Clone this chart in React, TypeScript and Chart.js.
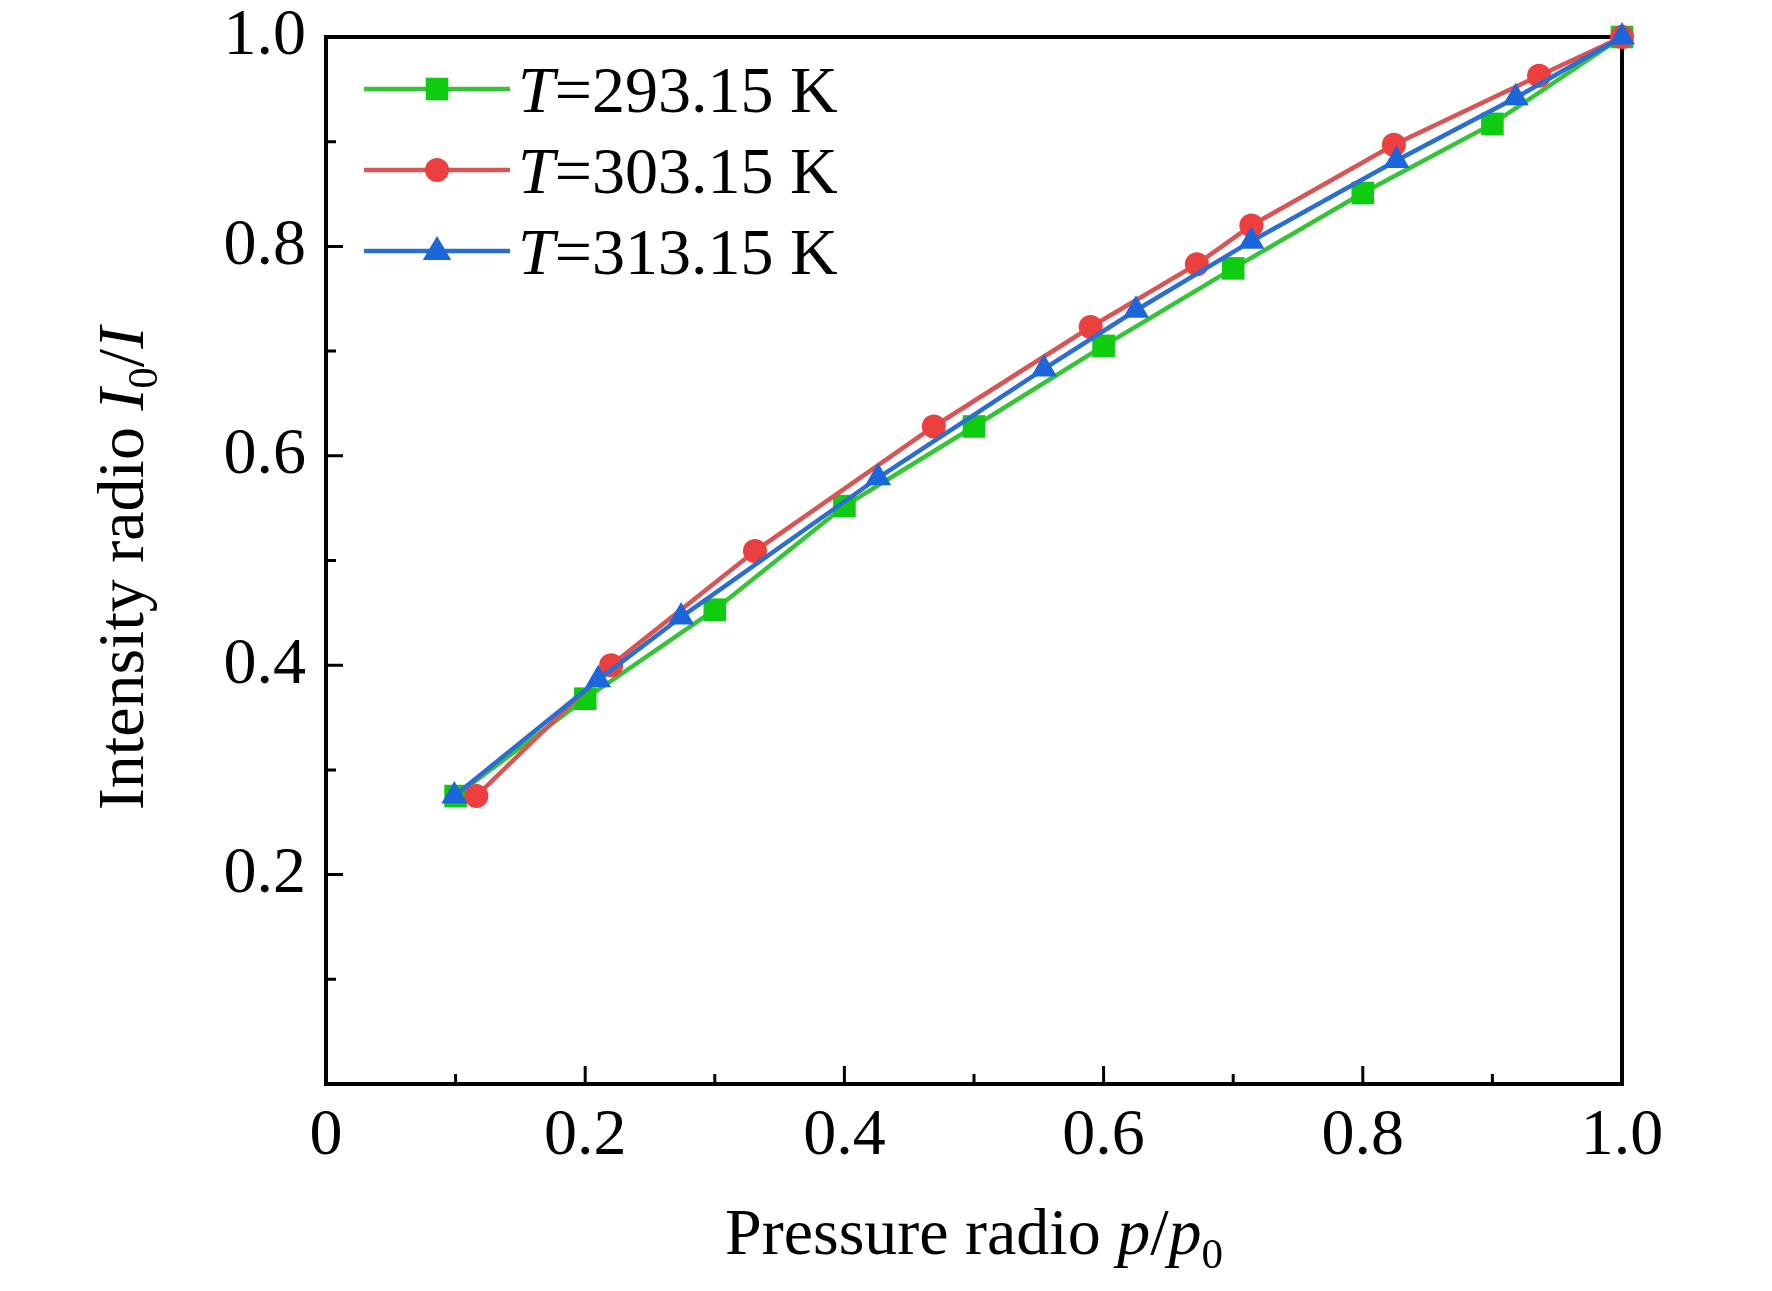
import React, { useEffect, useRef } from 'react';
import { Chart, registerables } from 'chart.js';

Chart.register(...registerables);

// Pressure ratio p/p0 (x) and intensity ratio I0/I (y) per temperature
const pressure293 = [0.1, 0.2, 0.3, 0.4, 0.5, 0.6, 0.7, 0.8, 0.9, 1.0];
const intensity293 = [0.275, 0.368, 0.453, 0.552, 0.628, 0.705, 0.779, 0.851, 0.917, 1.0];

const pressure303 = [0.116, 0.22, 0.331, 0.469, 0.59, 0.672, 0.714, 0.824, 0.936, 1.0];
const intensity303 = [0.275, 0.4, 0.509, 0.628, 0.723, 0.783, 0.82, 0.897, 0.963, 1.0];

const pressure313 = [0.099, 0.21, 0.274, 0.426, 0.554, 0.625, 0.714, 0.826, 0.918, 1.0];
const intensity313 = [0.275, 0.386, 0.446, 0.579, 0.683, 0.739, 0.805, 0.882, 0.942, 1.0];

const seriesLabels = ['293.15 K', '303.15 K', '313.15 K'];

const xMajorTicks = [0, 0.2, 0.4, 0.6, 0.8, 1.0];
const xMinorTicks = [0.1, 0.3, 0.5, 0.7, 0.9];
const yMajorTicks = [0, 0.2, 0.4, 0.6, 0.8, 1.0];
const yMinorTicks = [0.1, 0.3, 0.5, 0.7, 0.9];

const FONT = '"Liberation Serif", "Times New Roman", serif';
const SIZE = 66;

type Seg = { text: string; italic?: boolean; sub?: boolean };

const segFont = (s: Seg) => `${s.italic ? 'italic ' : ''}${s.sub ? Math.round(SIZE * 0.65) : SIZE}px ${FONT}`;

const drawSegs = (ctx: CanvasRenderingContext2D, segs: Seg[], x: number, y: number, align: 'left' | 'center') => {
  let total = 0;
  const widths = segs.map((s) => {
    ctx.font = segFont(s);
    const w = ctx.measureText(s.text).width;
    total += w;
    return w;
  });
  let cx = align === 'center' ? x - total / 2 : x;
  ctx.textAlign = 'left';
  ctx.textBaseline = 'alphabetic';
  ctx.fillStyle = '#000';
  segs.forEach((s, i) => {
    ctx.font = segFont(s);
    ctx.fillText(s.text, cx, s.sub ? y + 14 : y);
    cx += widths[i];
  });
};

const drawMarker = (ctx: CanvasRenderingContext2D, style: string, x: number, y: number, r: number, color: string) => {
  ctx.fillStyle = color;
  ctx.beginPath();
  if (style === 'rect') {
    const h = r / Math.SQRT2;
    ctx.rect(x - h, y - h, h * 2, h * 2);
  } else if (style === 'circle') {
    ctx.arc(x, y, r, 0, Math.PI * 2);
  } else {
    ctx.moveTo(x, y - r);
    ctx.lineTo(x + r * 0.95, y + r * 0.6);
    ctx.lineTo(x - r * 0.95, y + r * 0.6);
    ctx.closePath();
  }
  ctx.fill();
};

const framePlugin = {
  id: 'frameAndTicks',
  beforeDatasetsDraw(chart: any) {
    const { ctx, chartArea, scales } = chart;
    const { left, right, top, bottom } = chartArea;
    ctx.save();
    ctx.strokeStyle = '#000';
    ctx.lineWidth = 4;
    ctx.strokeRect(left, top, right - left, bottom - top);
    ctx.lineWidth = 3;
    ctx.beginPath();
    xMajorTicks.forEach((v) => {
      const px = scales.x.getPixelForValue(v);
      ctx.moveTo(px, bottom);
      ctx.lineTo(px, bottom - 18);
    });
    xMinorTicks.forEach((v) => {
      const px = scales.x.getPixelForValue(v);
      ctx.moveTo(px, bottom);
      ctx.lineTo(px, bottom - 10);
    });
    yMajorTicks.forEach((v) => {
      const py = scales.y.getPixelForValue(v);
      ctx.moveTo(left, py);
      ctx.lineTo(left + 17, py);
    });
    yMinorTicks.forEach((v) => {
      const py = scales.y.getPixelForValue(v);
      ctx.moveTo(left, py);
      ctx.lineTo(left + 10, py);
    });
    ctx.stroke();
    ctx.restore();
  },
  afterDraw(chart: any) {
    const { ctx, chartArea } = chart;
    ctx.save();
    // x axis title
    drawSegs(
      ctx,
      [{ text: 'Pressure radio ' }, { text: 'p', italic: true }, { text: '/' }, { text: 'p', italic: true }, { text: '0', sub: true }],
      (chartArea.left + chartArea.right) / 2,
      1254,
      'center'
    );
    // y axis title (rotated)
    ctx.save();
    ctx.translate(143, (chartArea.top + chartArea.bottom) / 2 + 8);
    ctx.rotate(-Math.PI / 2);
    drawSegs(
      ctx,
      [{ text: 'Intensity radio ' }, { text: 'I', italic: true }, { text: '0', sub: true }, { text: '/' }, { text: 'I', italic: true }],
      0,
      0,
      'center'
    );
    ctx.restore();
    // legend
    chart.data.datasets.forEach((ds: any, i: number) => {
      const rowY = chartArea.top + 52 + i * 81;
      const x0 = chartArea.left + 38;
      const x1 = x0 + 146;
      ctx.strokeStyle = ds.borderColor;
      ctx.lineWidth = 4.5;
      ctx.beginPath();
      ctx.moveTo(x0, rowY);
      ctx.lineTo(x1, rowY);
      ctx.stroke();
      drawMarker(ctx, ds.pointStyle, x0 + 73, rowY, ds.pointRadius, ds.pointBackgroundColor);
      drawSegs(ctx, [{ text: 'T', italic: true }, { text: '=' + seriesLabels[i] }], x1 + 8, rowY + 23, 'left');
    });
    ctx.restore();
  },
};

const toPoints = (xs: number[], ys: number[]) => xs.map((x, i) => ({ x, y: ys[i] }));

const App: React.FC = () => {
  const canvasRef = useRef<HTMLCanvasElement>(null);
  const chartRef = useRef<Chart | null>(null);

  useEffect(() => {
    if (!canvasRef.current) return;
    if (chartRef.current) chartRef.current.destroy();

    const common = { borderWidth: 4.5, clip: false as any, tension: 0, pointBorderWidth: 0 };

    chartRef.current = new Chart(canvasRef.current, {
      type: 'line',
      data: {
        datasets: [
          {
            ...common,
            label: seriesLabels[0],
            data: toPoints(pressure293, intensity293),
            borderColor: '#35c435',
            pointBackgroundColor: '#10cc10',
            pointStyle: 'rect',
            pointRadius: 16,
            order: 3,
          },
          {
            ...common,
            label: seriesLabels[1],
            data: toPoints(pressure303, intensity303),
            borderColor: '#d95454',
            pointBackgroundColor: '#ec3f3f',
            pointStyle: 'circle',
            pointRadius: 12,
            order: 2,
          },
          {
            ...common,
            label: seriesLabels[2],
            data: toPoints(pressure313, intensity313),
            borderColor: '#2a6ed2',
            pointBackgroundColor: '#1c66dc',
            pointStyle: 'triangle',
            pointRadius: 15,
            order: 1,
          },
        ] as any,
      },
      options: {
        animation: false,
        responsive: false,
        devicePixelRatio: 1,
        layout: { padding: { top: 37, right: 150, left: 0, bottom: 0 } },
        plugins: { legend: { display: false }, tooltip: { enabled: false } },
        scales: {
          x: {
            type: 'linear',
            min: 0,
            max: 1,
            grid: { display: false, drawTicks: false },
            border: { display: false },
            afterBuildTicks: (scale: any) => {
              scale.ticks = xMajorTicks.map((value) => ({ value }));
            },
            afterFit: (scale: any) => {
              scale.height = 207;
            },
            ticks: {
              padding: 13,
              color: '#000',
              font: { family: FONT, size: SIZE },
              maxRotation: 0,
              callback: (v: any) => (Number(v) === 0 ? '0' : Number(v).toFixed(1)),
            },
          },
          y: {
            type: 'linear',
            min: 0,
            max: 1,
            grid: { display: false, drawTicks: false },
            border: { display: false },
            afterBuildTicks: (scale: any) => {
              scale.ticks = yMajorTicks.map((value) => ({ value }));
            },
            afterFit: (scale: any) => {
              scale.width = 326;
            },
            ticks: {
              padding: 20,
              color: '#000',
              font: { family: FONT, size: SIZE, lineHeight: 0.5 },
              callback: (v: any) => (Number(v) === 0 ? '' : Number(v).toFixed(1)),
            },
          },
        },
      },
      plugins: [framePlugin],
    });

    return () => {
      chartRef.current?.destroy();
      chartRef.current = null;
    };
  }, []);

  return (
    <div style={{ position: 'fixed', left: 0, top: 0, width: 1772, height: 1291, background: '#fff' }}>
      <canvas ref={canvasRef} width={1772} height={1291} style={{ width: 1772, height: 1291 }} />
    </div>
  );
};

export default App;
